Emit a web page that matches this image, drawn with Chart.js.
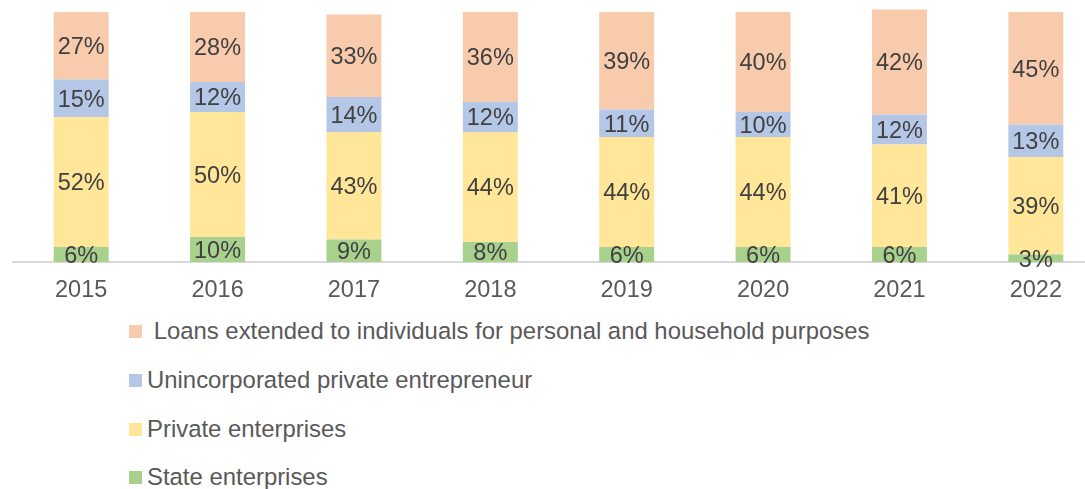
<!DOCTYPE html>
<html>
<head>
<meta charset="utf-8">
<script src="https://cdn.jsdelivr.net/npm/chart.js@4/dist/chart.umd.min.js"></script>
<style>
    html, body {
        margin: 0;
        padding: 0;
        background: #fff;
        width: 1085px;
        height: 489px;
        overflow: hidden;
        position: relative;
        font-family: "Liberation Sans", Arial, sans-serif;
    }
    #chartBox {
        position: absolute;
        left: 0;
        top: 0;
        width: 1104px;
        height: 310px;
    }
    .legend-item {
        position: absolute;
        left: 129px;
        height: 28px;
        display: flex;
        align-items: center;
        font-size: 23.9px;
        color: #595959;
        white-space: pre;
    }
    .legend-swatch {
        width: 13px;
        height: 13px;
        margin-right: 5px;
        flex: none;
    }
</style>
</head>
<body>
<div id="chartBox"><canvas id="loanChart" width="1104" height="310"></canvas></div>
<div id="legend"></div>
<script>
const years = ['2015', '2016', '2017', '2018', '2019', '2020', '2021', '2022'];

// shares of the loan portfolio, %
const stateEnterprises = [6, 10, 9, 8, 6, 6, 6, 3];
const privateEnterprises = [52, 50, 43, 44, 44, 44, 41, 39];
const unincorporated = [15, 12, 14, 12, 11, 10, 12, 13];
const personalLoans = [27, 28, 33, 36, 39, 40, 42, 45];

const seriesNames = [
    'State enterprises',
    'Private enterprises',
    'Unincorporated private entrepreneur',
    ' Loans extended to individuals for personal and household purposes'
];
const seriesColors = ['#A9D18E', '#FFE699', '#B4C7E7', '#F8CBAD'];
const seriesData = [stateEnterprises, privateEnterprises, unincorporated, personalLoans];

// writes the percentage in the middle of every bar segment
const segmentLabels = {
    id: 'segmentLabels',
    afterDatasetsDraw(chart) {
        const ctx = chart.ctx;
        ctx.save();
        ctx.font = '23.5px "Liberation Sans", Arial, sans-serif';
        ctx.fillStyle = '#404040';
        ctx.textAlign = 'center';
        ctx.textBaseline = 'middle';
        chart.data.datasets.forEach((dataset, i) => {
            chart.getDatasetMeta(i).data.forEach((bar, j) => {
                const y = (bar.y + bar.base) / 2 + 2;
                ctx.fillText(dataset.data[j] + '%', bar.x, y);
            });
        });
        ctx.restore();
    }
};

new Chart(document.getElementById('loanChart'), {
    type: 'bar',
    data: {
        labels: years,
        datasets: seriesData.map((data, i) => ({
            label: seriesNames[i],
            data: data,
            backgroundColor: seriesColors[i],
            borderWidth: 0,
            categoryPercentage: 1,
            barPercentage: 0.403
        }))
    },
    options: {
        responsive: false,
        animation: false,
        layout: { padding: { left: 13, right: 0, top: 2, bottom: 0 } },
        plugins: {
            legend: { display: false },
            tooltip: { enabled: false }
        },
        scales: {
            x: {
                stacked: true,
                grid: { display: false, drawTicks: false },
                border: { display: true, color: '#D9D9D9', width: 2 },
                ticks: {
                    color: '#595959',
                    padding: 14,
                    font: { family: '"Liberation Sans", Arial, sans-serif', size: 23.5 }
                },
                afterFit: scale => { scale.height = 48; }
            },
            y: {
                stacked: true,
                display: false,
                min: 0,
                max: 104
            }
        }
    },
    plugins: [segmentLabels]
});

// legend listed top to bottom, personal loans first
const legendBox = document.getElementById('legend');
const legendTops = [317, 366, 415, 463];
[3, 2, 1, 0].forEach((s, row) => {
    const item = document.createElement('div');
    item.className = 'legend-item';
    item.style.top = legendTops[row] + 'px';
    item.innerHTML = `<span class="legend-swatch" style="background:${seriesColors[s]}"></span>${seriesNames[s]}`;
    legendBox.appendChild(item);
});
</script>
</body>
</html>
